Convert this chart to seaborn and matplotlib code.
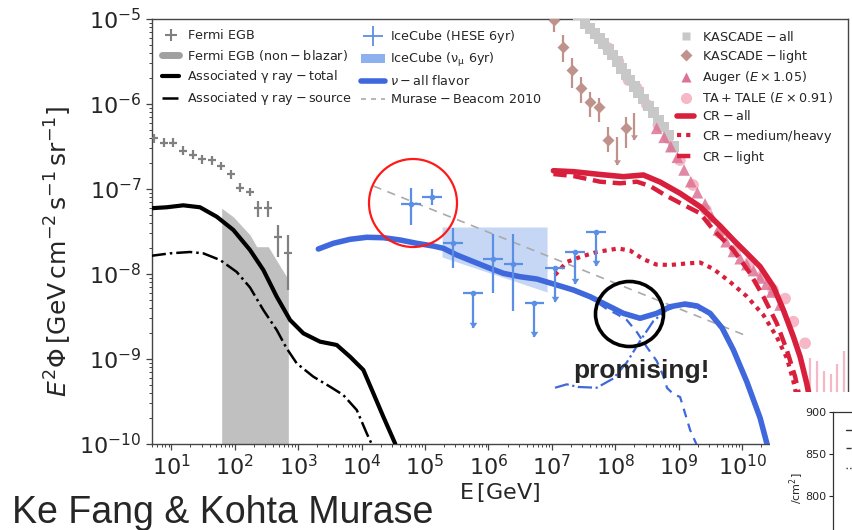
import numpy as np
import matplotlib
matplotlib.use("Agg")
import matplotlib.pyplot as plt
import seaborn as sns
from matplotlib.lines import Line2D
from matplotlib.patches import Patch, Ellipse, Rectangle
from matplotlib.ticker import LogLocator, NullFormatter

# ---------------- data (log10 E [GeV], log10 E^2 Phi) ----------------
fermi_logE = [0.726, 0.883, 1.020, 1.178, 1.336, 1.487, 1.636, 1.778, 1.940, 2.082, 2.240, 2.371, 2.528, 2.686, 2.844]
fermi_logF = [-6.404, -6.455, -6.455, -6.549, -6.596, -6.651, -6.662, -6.729, -6.827, -6.985, -7.035, -7.227, -7.227, -7.561, -7.749]
fermi_up = [0.05, 0.05, 0.05, 0.05, 0.05, 0.05, 0.05, 0.05, 0.05, 0.05, 0.05, 0.08, 0.08, 0.14, 0.21]
fermi_dn = [0.05, 0.05, 0.05, 0.05, 0.05, 0.05, 0.05, 0.05, 0.05, 0.05, 0.05, 0.10, 0.10, 0.24, 0.44]
fermi_dx = 0.065

nb_logE = [1.793, 1.975, 2.240, 2.345, 2.528, 2.686, 2.817, 2.844]
nb_logF = [-7.227, -7.326, -7.541, -7.679, -7.679, -7.874, -8.032, -8.047]

gt_logE = [0.662, 0.926, 1.188, 1.451, 1.715, 1.977, 2.240, 2.450, 2.661, 2.871, 3.081, 3.344, 3.607, 3.817, 4.027, 4.185, 4.342, 4.527, 4.606]
gt_logF = [-7.227, -7.215, -7.192, -7.215, -7.326, -7.482, -7.718, -7.953, -8.267, -8.541, -8.698, -8.796, -8.835, -8.973, -9.129, -9.404, -9.679, -9.992, -10.2]

gs_logE = [0.662, 0.978, 1.293, 1.503, 1.767, 2.030, 2.240, 2.450, 2.661, 2.817, 2.976, 3.238, 3.502, 3.711, 3.923, 4.080, 4.164, 4.230]
gs_logF = [-7.788, -7.757, -7.741, -7.757, -7.835, -7.976, -8.159, -8.424, -8.659, -8.874, -9.051, -9.208, -9.326, -9.424, -9.600, -9.874, -10.01, -10.2]

nu_logE = [3.317, 3.554, 3.817, 4.080, 4.342, 4.606, 4.869, 5.131, 5.289, 5.500, 5.762, 6.025, 6.235, 6.498, 6.762, 7.077, 7.339, 7.603, 7.866, 8.128, 8.391, 8.654, 8.864, 9.101, 9.290, 9.495, 9.685, 9.863, 10.074, 10.284, 10.390, 10.430]
nu_logF = [-7.706, -7.639, -7.592, -7.568, -7.573, -7.600, -7.639, -7.671, -7.698, -7.776, -7.855, -7.933, -7.992, -8.032, -8.059, -8.129, -8.188, -8.267, -8.365, -8.463, -8.521, -8.463, -8.385, -8.353, -8.376, -8.463, -8.635, -8.894, -9.267, -9.694, -9.992, -10.13]

nud_logE = [7.077, 7.339, 7.603, 7.866, 8.023, 8.181, 8.339, 8.497, 8.654, 8.758, 8.817, 8.916, 9.022, 9.085, 9.180, 9.290]
nud_logF = [-8.135, -8.196, -8.278, -8.412, -8.471, -8.541, -8.682, -8.859, -9.024, -9.200, -9.341, -9.412, -9.447, -9.600, -9.835, -10.02]

nudd_logE = [7.050, 7.235, 7.413, 7.708, 7.970, 8.181, 8.391, 8.601, 8.811, 9.022, 9.227, 9.495, 9.685, 9.863, 10.074, 10.284, 10.390]
nudd_logF = [-9.338, -9.298, -9.329, -9.338, -9.229, -9.041, -8.788, -8.553, -8.424, -8.370, -8.385, -8.470, -8.645, -8.905, -9.280, -9.705, -10.0]

hese_logE = [4.779, 5.110, 5.437, 6.068, 6.393]
hese_logF = [-7.176, -7.091, -7.639, -7.818, -7.886]
hese_up = [0.184, 0.087, 0.184, 0.285, 0.353]
hese_dn = [0.248, 0.097, 0.294, 0.402, 0.549]
hese_dx = 0.155
hul_logE = [5.752, 6.724, 7.050, 7.366, 7.697]
hul_logF = [-8.220, -8.338, -7.924, -7.741, -7.506]
hul_len = [0.41, 0.40, 0.41, 0.38, 0.40]

numu_logE = [5.268, 6.924]
numu_hi = [-7.447, -7.447]
numu_lo = [-7.800, -8.212]

mb_logE = [4.186, 10.074]
mb_logF = [-6.965, -8.729]

ka_logE = [7.30, 7.42, 7.524, 7.60, 7.681, 7.75, 7.812, 7.89, 7.960, 8.03, 8.102, 8.17, 8.233, 8.30, 8.370, 8.45, 8.522, 8.60, 8.680, 8.76, 8.837, 8.917]
ka_logF = [-4.84, -4.95, -5.051, -5.11, -5.168, -5.23, -5.286, -5.36, -5.424, -5.50, -5.580, -5.65, -5.718, -5.79, -5.867, -5.94, -6.024, -6.10, -6.188, -6.27, -6.365, -6.502]

kl_logE = [7.035, 7.172, 7.323, 7.461, 7.603, 7.744, 7.891, 8.164]
kl_logF = [-5.012, -5.326, -5.600, -5.815, -5.973, -6.039, -6.424, -6.286]
kl_up = [0.14, 0.138, 0.138, 0.136, 0.118, 0.106, 0.157, 0.137]
kl_dn = [0.14, 0.176, 0.215, 0.177, 0.176, 0.169, 0.137, 0.235]
klul_logE = [8.028, 8.300]
klul_logF = [-6.384, -6.109]
klul_len = [0.33, 0.31]

au_logE = [8.653, 8.770, 8.875, 8.979, 9.085, 9.191, 9.295, 9.416, 9.522, 9.626, 9.748, 9.863, 9.97, 10.074, 10.18, 10.284, 10.38, 10.467, 10.599]
au_logF = [-6.286, -6.392, -6.502, -6.627, -6.776, -6.914, -7.044, -7.176, -7.326, -7.482, -7.620, -7.735, -7.82, -7.890, -7.96, -8.047, -8.12, -8.212, -8.365]

ta_logE = [7.886, 8.049, 8.207, 8.338, 8.50, 8.68, 8.83, 9.02, 9.227, 9.43, 9.65, 9.89, 10.126, 10.315, 10.49, 10.678, 10.809, 10.994]
ta_logF = [-5.341, -5.502, -5.718, -5.812, -6.01, -6.247, -6.40, -6.66, -6.953, -7.247, -7.518, -7.718, -7.859, -8.024, -8.19, -8.29, -8.561, -8.815]
taul_logE = [11.07, 11.18, 11.29, 11.40, 11.49, 11.60]
taul_logF = [-8.985, -9.02, -9.14, -9.18, -9.06, -8.91]

cra_logE = [7.024, 7.339, 7.760, 8.128, 8.443, 8.707, 9.022, 9.338, 9.653, 9.863, 10.074, 10.284, 10.494, 10.651, 10.809, 10.915, 11.019, 11.07, 11.15]
cra_logF = [-6.785, -6.796, -6.829, -6.855, -6.835, -6.918, -7.051, -7.208, -7.435, -7.600, -7.756, -7.914, -8.149, -8.424, -8.738, -8.973, -9.286, -9.48, -9.84]

crl_logE = [7.024, 7.339, 7.760, 8.076, 8.339, 8.549, 8.785, 9.022, 9.338, 9.548, 9.863, 10.126, 10.336, 10.547, 10.705, 10.836, 10.915]
crl_logF = [-6.824, -6.847, -6.914, -6.933, -6.914, -6.965, -7.071, -7.165, -7.286, -7.482, -7.718, -7.992, -8.267, -8.580, -8.894, -9.208, -9.48]

crh_logE = [7.050, 7.235, 7.445, 7.708, 8.044, 8.233, 8.438, 8.644, 8.864, 9.127, 9.338, 9.548, 9.811, 10.074, 10.336, 10.547, 10.705, 10.804, 10.883]
crh_logF = [-8.012, -7.859, -7.800, -7.741, -7.700, -7.724, -7.824, -7.888, -7.894, -7.876, -7.865, -7.941, -8.094, -8.263, -8.483, -8.741, -8.988, -9.247, -9.52]

xticks_exp = [1, 2, 3, 4, 5, 6, 7, 8, 9, 10]
yticks_exp = [-10, -9, -8, -7, -6, -5]
inset_ticks = [800, 850, 900]

# ---------------- style ----------------
sns.set_style("ticks")
plt.rcParams["font.family"] = ["DejaVu Sans"]
plt.rcParams["mathtext.fontset"] = "dejavusans"

GREY = "#808080"
BLUE = "#3f68dc"
HESE = "#5b8fe6"
RED = "#d81f3c"
KAS = "#c8c8c8"
KLIGHT = "#bf928c"
AUG = "#dc7394"
TA = "#f6b7c6"


def P(a):
    return np.power(10.0, np.asarray(a, dtype=float))


fig = plt.figure(figsize=(8.52, 5.30), dpi=100)
W, H = 852.0, 530.0
ax = fig.add_axes([152 / W, 1 - 444 / H, 696 / W, 425 / H])
ax.set_xscale("log")
ax.set_yscale("log")

# Fermi non-blazar band
ax.fill_between(P(nb_logE), 1e-11, P(nb_logF), color="#c0c0c0", lw=0, zorder=1)

# Fermi EGB
fx = P(fermi_logE); fy = P(fermi_logF)
lE = np.array(fermi_logE); lF = np.array(fermi_logF)
ax.errorbar(fx, fy,
            xerr=[fx - P(lE - fermi_dx), P(lE + fermi_dx) - fx],
            yerr=[fy - P(lF - np.array(fermi_dn)), P(lF + np.array(fermi_up)) - fy],
            fmt="none", ecolor=GREY, elinewidth=1.6, zorder=3)

# gamma-ray lines
sns.lineplot(x=P(gt_logE), y=P(gt_logF), ax=ax, color="black", lw=3.0, sort=False, estimator=None, zorder=4)
sns.lineplot(x=P(gs_logE), y=P(gs_logF), ax=ax, color="black", lw=1.8, linestyle="-.", sort=False, estimator=None, zorder=4)

# IceCube numu band
ax.fill_between(P(numu_logE), P(numu_lo), P(numu_hi), color="#bcd0f4", alpha=0.85, lw=0, zorder=1)

# Murase-Beacom
sns.lineplot(x=P(mb_logE), y=P(mb_logF), ax=ax, color="#aaaaaa", lw=1.2, linestyle=(0, (5, 4)), sort=False, estimator=None, zorder=2)

# neutrino lines
sns.lineplot(x=P(nud_logE), y=P(nud_logF), ax=ax, color=BLUE, lw=1.6, linestyle=(0, (4, 3)), sort=False, estimator=None, zorder=5)
sns.lineplot(x=P(nudd_logE), y=P(nudd_logF), ax=ax, color=BLUE, lw=1.6, linestyle="-.", sort=False, estimator=None, zorder=5)
sns.lineplot(x=P(nu_logE), y=P(nu_logF), ax=ax, color=BLUE, lw=4.0, sort=False, estimator=None, zorder=6)

# HESE points
hx = P(hese_logE); hy = P(hese_logF)
hE = np.array(hese_logE); hF = np.array(hese_logF)
ax.errorbar(hx, hy, xerr=[hx - P(hE - hese_dx), P(hE + hese_dx) - hx],
            yerr=[hy - P(hF - np.array(hese_dn)), P(hF + np.array(hese_up)) - hy],
            fmt="o", ms=3, color=HESE, ecolor=HESE, elinewidth=1.6, zorder=7)
ux = P(hul_logE); uy = P(hul_logF); uE = np.array(hul_logE); uF = np.array(hul_logF)
ub = P(uF - np.array(hul_len))
ax.errorbar(ux, uy, xerr=[ux - P(uE - hese_dx), P(uE + hese_dx) - ux],
            yerr=[uy - ub, np.zeros_like(uy)], fmt="o", ms=3, color=HESE, ecolor=HESE, elinewidth=1.6, zorder=7)
ax.scatter(ux, ub, marker=7, s=30, color=HESE, zorder=7, lw=0)

# Cosmic ray data
sns.scatterplot(x=P(ta_logE), y=P(ta_logF), ax=ax, marker="o", s=70, color=TA, edgecolor="none", zorder=3, legend=False)
sns.scatterplot(x=P(ka_logE), y=P(ka_logF), ax=ax, marker="s", s=60, color=KAS, edgecolor="none", zorder=3, legend=False)
kx = P(kl_logE); ky = P(kl_logF); kF = np.array(kl_logF)
ax.errorbar(kx, ky, yerr=[ky - P(kF - np.array(kl_dn)), P(kF + np.array(kl_up)) - ky],
            fmt="D", ms=6, color=KLIGHT, ecolor=KLIGHT, elinewidth=1.6, mec="none", zorder=3)
klx = P(klul_logE); kly = P(klul_logF); klb = P(np.array(klul_logF) - np.array(klul_len))
ax.vlines(klx, klb, kly, color=KLIGHT, lw=1.6, zorder=3)
ax.scatter(klx, klb, marker=7, s=25, color=KLIGHT, lw=0, zorder=3)
sns.scatterplot(x=P(au_logE), y=P(au_logF), ax=ax, marker="^", s=70, color=AUG, alpha=0.85, edgecolor="none", zorder=3, legend=False)
tx = P(taul_logE); ty = P(taul_logF)
ax.vlines(tx, ty * 1e-1, ty, color=TA, lw=1.6, zorder=3)

# CR model lines
sns.lineplot(x=P(crh_logE), y=P(crh_logF), ax=ax, color=RED, lw=3.0, linestyle=(0, (1, 1.2)), sort=False, estimator=None, zorder=4)
sns.lineplot(x=P(crl_logE), y=P(crl_logF), ax=ax, color=RED, lw=3.2, linestyle=(0, (3, 1.5)), sort=False, estimator=None, zorder=4)
sns.lineplot(x=P(cra_logE), y=P(cra_logF), ax=ax, color=RED, lw=4.0, sort=False, estimator=None, zorder=4)

# axes
ax.set_xlim(10 ** 0.694, 10 ** 11.67)
ax.set_ylim(1e-10, 1e-5)
ax.set_xticks(P(xticks_exp))
ax.set_xticklabels([r"$10^{%d}$" % e for e in xticks_exp])
ax.xaxis.set_minor_locator(LogLocator(base=10, subs=np.arange(2, 10) * 0.1, numticks=30))
ax.xaxis.set_minor_formatter(NullFormatter())
ax.set_yticks(P(yticks_exp))
ax.set_yticklabels([r"$10^{%d}$" % e for e in yticks_exp])
ax.yaxis.set_minor_locator(LogLocator(base=10, subs=np.arange(2, 10) * 0.1, numticks=30))
ax.yaxis.set_minor_formatter(NullFormatter())
ax.tick_params(which="major", labelsize=16, length=4, width=0.9, color="#444444")
ax.tick_params(which="minor", length=2, width=0.7, color="#444444")
for s in ax.spines.values():
    s.set_color("#444444"); s.set_linewidth(1.0); s.set_visible(True)
ax.set_xlabel(r"$\mathrm{E\,[GeV]}$", fontsize=16)
ax.set_ylabel(r"$E^2\Phi\,[\mathrm{GeV\,cm^{-2}\,s^{-1}\,sr^{-1}}]$", fontsize=18)
ax.xaxis.set_label_coords(0.5, -0.088)
ax.yaxis.set_label_coords(-0.112, 0.452)

# legends
lkw = dict(frameon=False, fontsize=9.2, borderpad=0, borderaxespad=0, labelspacing=0.42, loc="upper left")
h_left = [Line2D([], [], color=GREY, marker="+", ms=9, mew=1.5, ls="none"),
          Line2D([], [], color="#a0a0a0", lw=5),
          Line2D([], [], color="black", lw=3),
          Line2D([], [], color="black", lw=1.8, ls="-.")]
l_left = [r"$\rm Fermi\ EGB$", r"$\rm Fermi\ EGB\ (non-blazar)$",
          r"$\rm Associated\ \gamma\ ray-total$", r"$\rm Associated\ \gamma\ ray-source$"]
leg1 = ax.legend(h_left, l_left, bbox_to_anchor=(0.015, 0.978), handlelength=1.3, handletextpad=0.6, **lkw)
ax.add_artist(leg1)
h_mid = [Line2D([], [], color=HESE, marker="+", ms=15, mew=1.3, ls="none"),
         Patch(fc="#8fb0ee", ec="none"),
         Line2D([], [], color=BLUE, lw=4),
         Line2D([], [], color="#aaaaaa", lw=1.2, ls=(0, (3, 3)))]
l_mid = [r"$\rm IceCube\ (HESE\ 6yr)$", r"$\rm IceCube\ (\nu_\mu\ 6yr)$",
         r"$\nu-\rm all\ flavor$", r"$\rm Murase-Beacom\ 2010$"]
leg2 = ax.legend(h_mid, l_mid, bbox_to_anchor=(0.300, 0.978), handlelength=1.9, handletextpad=0.35, **lkw)
ax.add_artist(leg2)
h_right = [Line2D([], [], color=KAS, marker="s", ms=6, ls="none", mec="none"),
           Line2D([], [], color=KLIGHT, marker="D", ms=6, ls="none", mec="none"),
           Line2D([], [], color=AUG, marker="^", ms=7, ls="none", mec="none"),
           Line2D([], [], color=TA, marker="o", ms=8, ls="none", mec="none"),
           Line2D([], [], color=RED, lw=4),
           Line2D([], [], color=RED, lw=3, ls=(0, (1, 1.2))),
           Line2D([], [], color=RED, lw=3.2, ls=(0, (3, 1.5)))]
l_right = [r"$\rm KASCADE-all$", r"$\rm KASCADE-light$", r"$\rm Auger\ (\it{E}\rm\times1.05)$",
           r"$\rm TA+TALE\ (\it{E}\rm\times0.91)$", r"$\rm CR-all$", r"$\rm CR-medium/heavy$", r"$\rm CR-light$"]
lkw3 = dict(lkw); lkw3["labelspacing"] = 0.33
leg3 = ax.legend(h_right, l_right, bbox_to_anchor=(0.755, 0.975), handlelength=1.3, handletextpad=0.6, **lkw3)

# annotations
fig.add_artist(Ellipse((413 / W, 1 - 203 / H), 88 / W, 88 / H, transform=fig.transFigure,
                       fill=False, ec="#ff1a1a", lw=1.6, zorder=10))
fig.add_artist(Ellipse((629.5 / W, 1 - 314 / H), 68 / W, 65 / H, transform=fig.transFigure,
                       fill=False, ec="black", lw=2.6, zorder=10))
fig.text(641 / W, 1 - 378 / H, "promising!", fontsize=19, fontweight="bold",
         family=["Liberation Sans", "DejaVu Sans"], ha="center", va="baseline", zorder=10)
fig.text(12 / W, 1 - 523 / H, "Ke Fang & Kohta Murase", fontsize=27,
         family=["Liberation Sans", "DejaVu Sans"], ha="left", va="baseline", zorder=10)

# pasted inset (partially visible)
fig.add_artist(Rectangle((770 / W, 0), 1, (530 - 392) / H, transform=fig.transFigure,
                         fc="white", ec="none", zorder=8))
iax = fig.add_axes([833 / W, 1 - 580 / H, 0.2, (580 - 411.7) / H], zorder=9)
iax.set_ylim(699.6, 900)
iax.set_yticks(inset_ticks)
iax.set_xticks([])
iax.tick_params(labelsize=8, length=3, width=0.8, pad=2)
iax.spines["right"].set_visible(False)
iax.spines["bottom"].set_visible(False)
for s in ["left", "top"]:
    iax.spines[s].set_color("#333333"); iax.spines[s].set_linewidth(0.9)
for yy, ls in [(430, "-"), (448, "--"), (468, ":")]:
    fig.add_artist(Line2D([846 / W, 852 / W], [1 - yy / H] * 2, transform=fig.transFigure,
                          color="#333333", lw=1.0, ls=ls, zorder=10))
fig.text(797 / W, 1 - 473 / H, r"/cm$^2$]", rotation=90, ha="center", va="top", fontsize=8, zorder=10)

fig.savefig("out.png", dpi=100, facecolor="white")
